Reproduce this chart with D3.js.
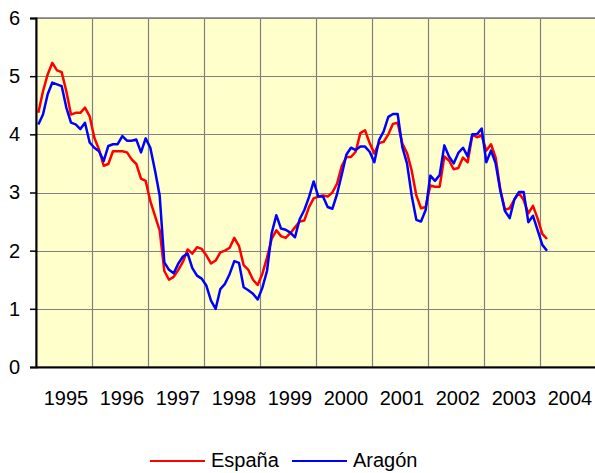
<!DOCTYPE html>
<html>
<head>
<meta charset="utf-8">
<script src="https://cdnjs.cloudflare.com/ajax/libs/d3/7.8.5/d3.min.js"></script>
<style>
  body { margin: 0; background: #fff; }
  svg { display: block; font-family: Arial, "Liberation Sans", sans-serif; }
</style>
</head>
<body>
<div class="chart"></div>
<script>
// años del eje x
var years = ["1995", "1996", "1997", "1998", "1999", "2000", "2001", "2002", "2003", "2004"];
var yTicks = [0, 1, 2, 3, 4, 5, 6];
var seriesNames = ["España", "Aragón"];

// datos mensuales desde enero de 1995
var espana = [
  4.37, 4.74, 5.03, 5.23, 5.10, 5.07, 4.74, 4.34, 4.37, 4.37, 4.46, 4.31,
  3.94, 3.74, 3.46, 3.49, 3.71, 3.71, 3.71, 3.69, 3.57, 3.49, 3.24, 3.20,
  2.85, 2.60, 2.35, 1.65, 1.50, 1.55, 1.67, 1.81, 2.02, 1.95, 2.06, 2.03,
  1.92, 1.78, 1.83, 1.97, 2.00, 2.05, 2.22, 2.08, 1.75, 1.67, 1.50, 1.41,
  1.60, 1.88, 2.20, 2.35, 2.25, 2.22, 2.30, 2.40, 2.50, 2.52, 2.75, 2.90,
  2.93, 2.95, 2.93, 3.00, 3.15, 3.45, 3.61, 3.61, 3.70, 4.02, 4.07, 3.85,
  3.67, 3.85, 3.87, 4.00, 4.18, 4.20, 3.84, 3.68, 3.38, 2.95, 2.73, 2.75,
  3.12, 3.10, 3.10, 3.62, 3.55, 3.40, 3.42, 3.60, 3.52, 3.99, 3.95, 3.98,
  3.72, 3.83, 3.60, 3.05, 2.70, 2.73, 2.88, 2.99, 2.87, 2.64, 2.77, 2.55,
  2.29, 2.20
];
var aragon = [
  4.17, 4.34, 4.69, 4.89, 4.86, 4.83, 4.46, 4.20, 4.17, 4.09, 4.20, 3.86,
  3.77, 3.71, 3.54, 3.80, 3.83, 3.83, 3.97, 3.89, 3.89, 3.91, 3.69, 3.93,
  3.77, 3.38, 2.95, 1.80, 1.67, 1.61, 1.78, 1.90, 1.95, 1.70, 1.57, 1.52,
  1.40, 1.14, 1.00, 1.34, 1.43, 1.60, 1.82, 1.79, 1.37, 1.32, 1.26, 1.16,
  1.36, 1.65, 2.30, 2.61, 2.38, 2.36, 2.31, 2.23, 2.54, 2.70, 2.92, 3.19,
  2.93, 2.93, 2.75, 2.72, 2.97, 3.30, 3.65, 3.77, 3.73, 3.79, 3.79, 3.70,
  3.52, 3.90, 4.05, 4.30, 4.35, 4.35, 3.78, 3.50, 2.95, 2.53, 2.50, 2.70,
  3.29, 3.20, 3.30, 3.81, 3.62, 3.50, 3.68, 3.77, 3.62, 4.00, 4.00, 4.10,
  3.52, 3.72, 3.50, 3.03, 2.68, 2.56, 2.88, 3.01, 3.01, 2.49, 2.60, 2.35,
  2.10, 2.00
];

function makeChart(){
	var width = 595,
			height = 473;
	var left = 36, top = 18, right = 596, bottom = 367;

	var svg = d3.select(".chart").append("svg")
			.attr("width", width)
			.attr("height", height);

	var x = d3.scaleBand()
			.domain(years)
			.range([left, right])
			.padding(0);

	var y = d3.scaleLinear()
			.domain([0, 6])
			.range([bottom, top]);

	function xMonth(i){
		var yr = years[Math.floor(i / 12)];
		return x(yr) + ((i % 12) + 0.5) * x.bandwidth() / 12;
	}

	// fondo del área de trazado
	svg.append("rect")
			.attr("x", left)
			.attr("y", top)
			.attr("width", right - left)
			.attr("height", bottom - top)
			.attr("fill", "#FFFFCC")
			.attr("stroke", "#808080")
			.attr("stroke-width", 1.5);

	// rejilla horizontal
	svg.append("g").selectAll("line")
			.data(yTicks.slice(1))
		.enter().append("line")
			.attr("x1", left)
			.attr("x2", right)
			.attr("y1", function(d){ return Math.round(y(d)) + 0.5; })
			.attr("y2", function(d){ return Math.round(y(d)) + 0.5; })
			.style("stroke", "#808080")
			.style("stroke-width", 1.2);

	// rejilla vertical
	svg.append("g").selectAll("line")
			.data(years.slice(1))
		.enter().append("line")
			.attr("x1", function(d){ return Math.round(x(d)) + 0.5; })
			.attr("x2", function(d){ return Math.round(x(d)) + 0.5; })
			.attr("y1", top)
			.attr("y2", bottom)
			.style("stroke", "#808080")
			.style("stroke-width", 1.2);

	var line = d3.line()
			.x(function(d, i){ return xMonth(i); })
			.y(function(d){ return y(d); });

	svg.append("path")
			.datum(espana)
			.attr("d", line)
			.attr("fill", "none")
			.style("stroke", "#FF0000")
			.style("stroke-width", 2.5)
			.style("stroke-linejoin", "round");

	svg.append("path")
			.datum(aragon)
			.attr("d", line)
			.attr("fill", "none")
			.style("stroke", "#0000FF")
			.style("stroke-width", 2.5)
			.style("stroke-linejoin", "round");

	// eje y
	var yAxis = svg.append("g")
			.attr("transform", "translate(" + left + ",0)")
			.call(d3.axisLeft(y).tickValues(yTicks).tickSize(6).tickPadding(10).tickFormat(d3.format("d")));
	yAxis.select(".domain").attr("stroke", "#000").attr("stroke-width", 2);
	yAxis.selectAll(".tick line").attr("stroke", "#000").attr("stroke-width", 1.5);
	yAxis.selectAll("text").attr("font-size", 20).attr("fill", "#000")
			.attr("font-family", "Arial, 'Liberation Sans', sans-serif");

	// eje x
	var xAxis = svg.append("g")
			.attr("transform", "translate(0," + bottom + ")")
			.call(d3.axisBottom(x).tickSize(0).tickPadding(24));
	xAxis.select(".domain").attr("stroke", "#000").attr("stroke-width", 2);
	xAxis.selectAll("text").attr("font-size", 20).attr("fill", "#000")
			.attr("dx", 2)
			.attr("font-family", "Arial, 'Liberation Sans', sans-serif");

	// leyenda
	var colors = ["#FF0000", "#0000FF"];
	var legendX = [150, 292];
	var legend = svg.append("g").selectAll("g")
			.data(seriesNames)
		.enter().append("g")
			.attr("transform", function(d, i){ return "translate(" + legendX[i] + ",461)"; });
	legend.append("line")
			.attr("x1", 0)
			.attr("x2", 55)
			.style("stroke", function(d, i){ return colors[i]; })
			.style("stroke-width", 2);
	legend.append("text")
			.attr("x", 61)
			.attr("y", 6)
			.attr("font-size", 20)
			.attr("fill", "#000")
			.text(function(d){ return d; });
}

makeChart();
</script>
</body>
</html>
